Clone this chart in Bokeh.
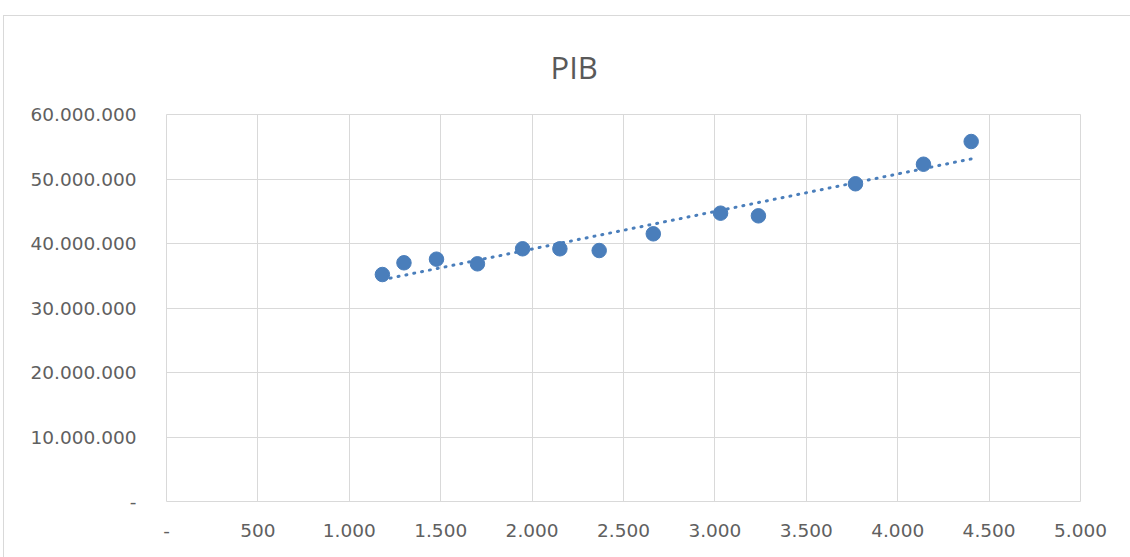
import numpy as np
from bokeh.plotting import figure
from bokeh.models import FixedTicker, Range1d
from bokeh.embed import file_html
from bokeh.resources import INLINE

# data
x_values = [1181, 1299, 1477, 1701, 1948, 2152, 2367, 2663, 3031, 3238, 3769, 4141, 4402]
y_values = [35190000, 37010000, 37570000, 36850000, 39180000, 39180000, 38910000,
            41500000, 44700000, 44290000, 49260000, 52290000, 55810000]

x_ticks = [0, 500, 1000, 1500, 2000, 2500, 3000, 3500, 4000, 4500, 5000]
x_tick_labels = ["-", "500", "1.000", "1.500", "2.000", "2.500", "3.000", "3.500",
                 "4.000", "4.500", "5.000"]
y_ticks = [0, 10000000, 20000000, 30000000, 40000000, 50000000, 60000000]
y_tick_labels = ["-", "10.000.000", "20.000.000", "30.000.000", "40.000.000",
                 "50.000.000", "60.000.000"]
title_text = "PIB"

BLUE = "#4a7ebb"
GRID = "#d9d9d9"
TXT = "#595959"

p = figure(width=1127, height=542, output_backend="svg", toolbar_location=None,
           x_range=Range1d(x_ticks[0], x_ticks[-1]), y_range=Range1d(y_ticks[0], y_ticks[-1]),
           min_border_left=162, min_border_top=98, min_border_right=51, min_border_bottom=57,
           title=title_text)
p.styles = {"margin-left": "3px", "margin-top": "15px",
            "border-top": "1px solid #d9d9d9", "border-left": "1px solid #d9d9d9"}

p.title.align = "left"
p.title.vertical_align = "top"
p.title.text_font = "Open Sans"
p.title.text_font_size = "31px"
p.title.text_font_style = "normal"
p.title.text_color = TXT
p.title.standoff = 50
p.title.offset = 384

p.outline_line_color = GRID
p.xgrid.grid_line_color = GRID
p.ygrid.grid_line_color = GRID
p.xaxis.ticker = FixedTicker(ticks=x_ticks)
p.yaxis.ticker = FixedTicker(ticks=y_ticks)
p.xaxis.major_label_overrides = {t: l for t, l in zip(x_ticks, x_tick_labels)}
p.yaxis.major_label_overrides = {t: l for t, l in zip(y_ticks, y_tick_labels)}
for ax in (p.xaxis, p.yaxis):
    ax.axis_line_color = None
    ax.major_tick_line_color = None
    ax.minor_tick_line_color = None
    ax.major_label_text_font = "DejaVu Sans"
    ax.major_label_text_font_size = "18.5px"
    ax.major_label_text_color = "#606060"
p.xaxis.major_label_standoff = 16
p.yaxis.major_label_standoff = 24

# linear trend line over the data span
coef = np.polyfit(x_values, y_values, 1)
tx = [min(x_values), max(x_values)]
ty = [coef[0] * v + coef[1] for v in tx]
p.line(tx, ty, line_color=BLUE, line_width=3, line_dash="1 7", line_cap="round")

p.scatter(x_values, y_values, size=14.5, fill_color=BLUE, line_color=BLUE)

open("out.html", "w").write(file_html(p, INLINE))
